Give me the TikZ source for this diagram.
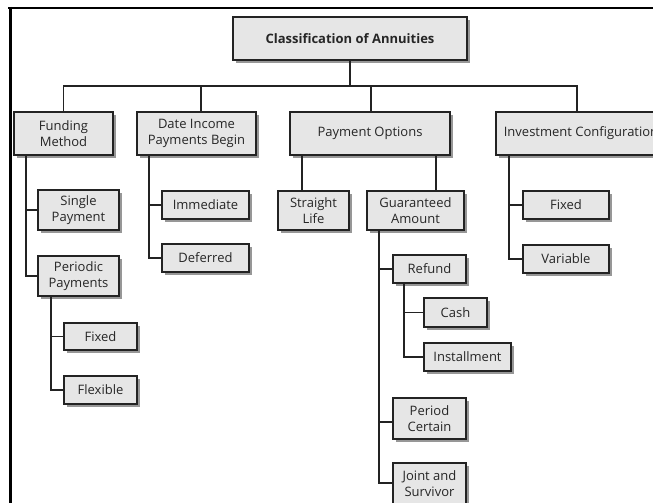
\documentclass[tikz,border=0pt]{standalone}
\usepackage{fontspec}
\setmainfont{Open Sans}
\usetikzlibrary{shadows}
\definecolor{boxfill}{HTML}{E6E6E6}
\definecolor{boxline}{HTML}{232323}
\definecolor{shadowgray}{HTML}{8C8C8C}
\definecolor{ink}{HTML}{262626}
\begin{document}
\begin{tikzpicture}[x=1pt,y=-1pt,
  box/.style={draw=boxline, fill=boxfill, line width=1.5pt, inner sep=0pt, outer sep=0pt,
    align=center, text=ink, font=\fontsize{13}{16}\selectfont,
    drop shadow={shadow xshift=3pt, shadow yshift=-3pt, fill=shadowgray, opacity=0.9}},
  link/.style={draw=boxline, line width=1.5pt},
  frame/.style={draw=black}]
\clip (0,0) rectangle (653,503);
\useasboundingbox (0,0) rectangle (653,503);
\fill[white] (0,0) rectangle (653,503);

% outer frame
\draw[frame, line width=2.5pt] (8,8) -- (653,8);
\draw[frame, line width=3.5pt] (10.5,7) -- (10.5,503);

% root and first level
\node[box, minimum width=234pt, minimum height=43pt, font=\fontsize{13}{16}\selectfont\bfseries] (root) at (350,38.5) {Classification of Annuities};
\node[box, minimum width=99pt, minimum height=43pt] (fund) at (63.5,133.5) {Funding\\Method};
\node[box, minimum width=119pt, minimum height=43pt] (date) at (196.5,133.5) {Date Income\\Payments Begin};
\node[box, minimum width=160pt, minimum height=43pt] (opts) at (370,133.5) {Payment Options};
\node[box, minimum width=170pt, minimum height=43pt] (inv) at (581,133.5) {Investment Configuration};

% funding method
\node[box, minimum width=81pt, minimum height=40pt] (single) at (78.5,210) {Single\\Payment};
\node[box, minimum width=81pt, minimum height=40pt] (periodic) at (78.5,276) {Periodic\\Payments};
\node[box, minimum width=73pt, minimum height=27pt] (pfixed) at (100.5,336.5) {Fixed};
\node[box, minimum width=73pt, minimum height=28pt] (flex) at (100.5,390) {Flexible};

% date income payments begin
\node[box, minimum width=87pt, minimum height=28pt] (immed) at (205.5,205) {Immediate};
\node[box, minimum width=87pt, minimum height=28pt] (defer) at (205.5,258) {Deferred};

% payment options
\node[box, minimum width=71pt, minimum height=39pt] (straight) at (313.5,210.5) {Straight\\Life};
\node[box, minimum width=97pt, minimum height=39pt] (guar) at (415.5,210.5) {Guaranteed\\Amount};
\node[box, minimum width=73pt, minimum height=28pt] (refund) at (429.5,269) {Refund};
\node[box, minimum width=63pt, minimum height=29pt] (cash) at (455.5,312.5) {Cash};
\node[box, minimum width=87pt, minimum height=28pt] (install) at (467.5,357) {Installment};
\node[box, minimum width=73pt, minimum height=41pt] (period) at (429.5,418.5) {Period\\Certain};
\node[box, minimum width=73pt, minimum height=42pt] (joint) at (429.5,484) {Joint and\\Survivor};

% investment configuration
\node[box, minimum width=86pt, minimum height=28pt] (ifixed) at (566,205) {Fixed};
\node[box, minimum width=86pt, minimum height=28pt] (var) at (566,259) {Variable};

% bus below the root
\coordinate (bus) at (350,86);
\draw[link] (root.south) -- (bus);
\draw[link] (bus) -| (fund.north);
\draw[link] (bus) -| ([xshift=4.5pt]date.north);
\draw[link] (bus) -| ([xshift=1pt]opts.north);
\draw[link] (bus) -| ([xshift=-4pt]inv.north);

% funding method branches
\draw[link] ([xshift=12pt]fund.south west) |- (periodic.west);
\draw[link] (single.west) -| ([xshift=12pt]fund.south west);
\draw[link] ([xshift=13pt]periodic.south west) |- (flex.west);
\draw[link] (pfixed.west) -| ([xshift=13pt]periodic.south west);

% date income branches
\draw[link] ([xshift=12pt]date.south west) |- (defer.west);
\draw[link] (immed.west) -| ([xshift=12pt]date.south west);

% payment options branches
\draw[link] ([xshift=12pt]opts.south west) -- ([xshift=24pt]straight.north west);
\draw[link] ([xshift=-14pt]opts.south east) -- ([xshift=69pt]guar.north west);
\draw[link] ([xshift=12pt]guar.south west) |- ([yshift=1pt]joint.west);
\draw[link] (refund.west) -| ([xshift=12pt]guar.south west);
\draw[link] ([yshift=-3.5pt]period.west) -| ([xshift=12pt]guar.south west);
\draw[link] ([xshift=11pt]refund.south west) |- (install.west);
\draw[link] (cash.west) -| ([xshift=11pt]refund.south west);

% investment configuration branches
\draw[link] ([xshift=13pt]inv.south west) |- (var.west);
\draw[link] (ifixed.west) -| ([xshift=13pt]inv.south west);
\end{tikzpicture}
\end{document}
